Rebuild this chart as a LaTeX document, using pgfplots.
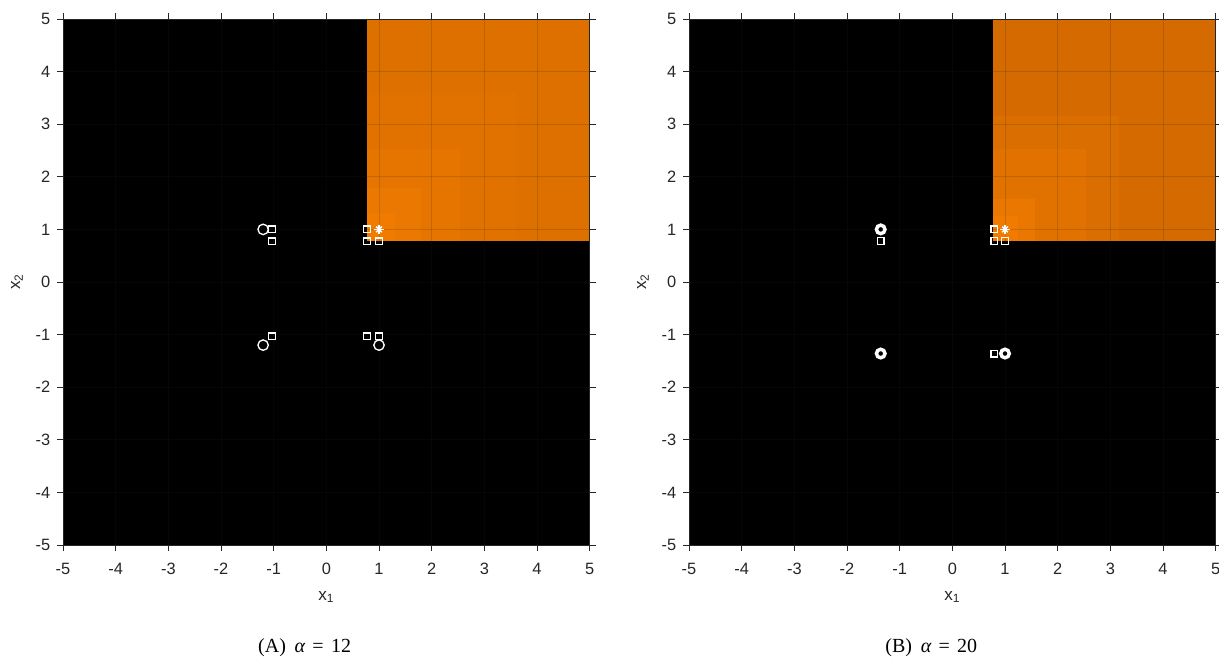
\documentclass[border=0pt]{standalone}
\usepackage{pgfplots}
\pgfplotsset{compat=1.18}
\usepackage{fontspec}
\setmainfont{Liberation Sans}
\newfontfamily\capfont{Liberation Serif}
\definecolor{axgray}{RGB}{38,38,38}
% left (alpha = 12) orange levels
\definecolor{La}{RGB}{222,112,0}
\definecolor{Lb}{RGB}{226,114,0}
\definecolor{Lc}{RGB}{230,117,0}
\definecolor{Ld}{RGB}{235,120,0}
\definecolor{Le}{RGB}{240,123,0}
% right (alpha = 20) orange levels
\definecolor{Ra}{RGB}{212,106,0}
\definecolor{Rb}{RGB}{218,110,0}
\definecolor{Rc}{RGB}{225,114,0}
\definecolor{Rd}{RGB}{233,119,0}
\definecolor{Re}{RGB}{240,123,0}
\pgfplotsset{
  myax/.style={
    scale only axis, width=395pt, height=394.5pt,
    xmin=-5, xmax=5, ymin=-5, ymax=5,
    xtick={-5,...,5}, ytick={-5,...,5},
    tick align=outside, major tick length=4.5pt,
    axis line style={color=axgray, line width=0.6pt},
    every tick/.style={color=axgray, line width=0.6pt},
    ticklabel style={font=\fontsize{12.3}{14}\selectfont, color=axgray},
    /pgf/number format/assume math mode=true,
    xticklabel style={yshift=-5.5pt},
    yticklabel style={xshift=-1.5pt},
    grid=major, grid style={color=axgray, opacity=0.18, line width=0.6pt},
    axis on top,
    axis background/.style={fill=black},
    label style={font=\fontsize{12.8}{14}\selectfont, color=axgray},
    xlabel={x\textsubscript{1}}, ylabel={x\textsubscript{2}},
    xlabel style={at={(axis description cs:0.5,-0.0987)}, anchor=center},
    ylabel style={at={(axis description cs:-0.0875,0.5)}, anchor=center},
    clip=true,
  },
  sq/.style={only marks, mark=square, mark size=2.5pt, white, line width=1pt},
  ci/.style={only marks, mark=o, mark size=3.9pt, white, line width=1pt},
  cib/.style={only marks, mark=o, mark size=3.2pt, white, line width=2.6pt},
  stp/.style={only marks, mark=+, mark size=3.4pt, white, line width=1pt},
  stx/.style={only marks, mark=x, mark size=3.0pt, white, line width=1pt},
}
\begin{document}
\begin{tikzpicture}
\useasboundingbox (0,0) rectangle (914.25pt,494.25pt);
% ---------------- (A) alpha = 12
\begin{axis}[myax, at={(47.25pt,85.5pt)}, anchor=south west]
\addplot[fill=La, draw=none] coordinates {(0.78,0.78) (5,0.78) (5,5) (0.78,5)};
\addplot[fill=Lb, draw=none] coordinates {(0.78,0.78) (3.6,0.78) (3.6,3.6) (0.78,3.6)};
\addplot[fill=Lc, draw=none] coordinates {(0.78,0.78) (2.53,0.78) (2.53,2.53) (0.78,2.53)};
\addplot[fill=Ld, draw=none] coordinates {(0.78,0.78) (1.79,0.78) (1.79,1.79) (0.78,1.79)};
\addplot[fill=Le, draw=none] coordinates {(0.78,0.78) (1.31,0.78) (1.31,1.31) (0.78,1.31)};
\addplot[sq] coordinates {(-1.03,1) (-1.03,0.77) (-1.03,-1.03) (0.77,1) (0.77,0.77) (1,0.77) (0.77,-1.03) (1,-1.03)};
\addplot[ci] coordinates {(-1.2,1) (-1.2,-1.2) (1,-1.2)};
\addplot[stp] coordinates {(1,1)};
\addplot[stx] coordinates {(1,1)};
\end{axis}
% ---------------- (B) alpha = 20
\begin{axis}[myax, at={(516.75pt,85.5pt)}, anchor=south west]
\addplot[fill=Ra, draw=none] coordinates {(0.78,0.78) (5,0.78) (5,5) (0.78,5)};
\addplot[fill=Rb, draw=none] coordinates {(0.78,0.78) (3.16,0.78) (3.16,3.16) (0.78,3.16)};
\addplot[fill=Rc, draw=none] coordinates {(0.78,0.78) (2.53,0.78) (2.53,2.53) (0.78,2.53)};
\addplot[fill=Rd, draw=none] coordinates {(0.78,0.78) (1.57,0.78) (1.57,1.57) (0.78,1.57)};
\addplot[fill=Re, draw=none] coordinates {(0.78,0.78) (1.25,0.78) (1.25,1.25) (0.78,1.25)};
\addplot[sq] coordinates {(-1.36,0.78) (0.8,1) (0.8,0.78) (1,0.78) (0.8,-1.36)};
\addplot[cib] coordinates {(-1.36,1) (-1.36,-1.36) (1,-1.36)};
\addplot[stp] coordinates {(1,1)};
\addplot[stx] coordinates {(1,1)};
\end{axis}
\node[anchor=base, font=\capfont\fontsize{15}{17}\selectfont] at (228.5pt,4.5pt) {(A)\hspace{6.5pt}{\itshape α}\hspace{5.5pt}=\hspace{5.5pt}12};
\node[anchor=base, font=\capfont\fontsize{15}{17}\selectfont] at (698.5pt,4.5pt) {(B)\hspace{6.5pt}{\itshape α}\hspace{5.5pt}=\hspace{5.5pt}20};
\end{tikzpicture}
\end{document}
